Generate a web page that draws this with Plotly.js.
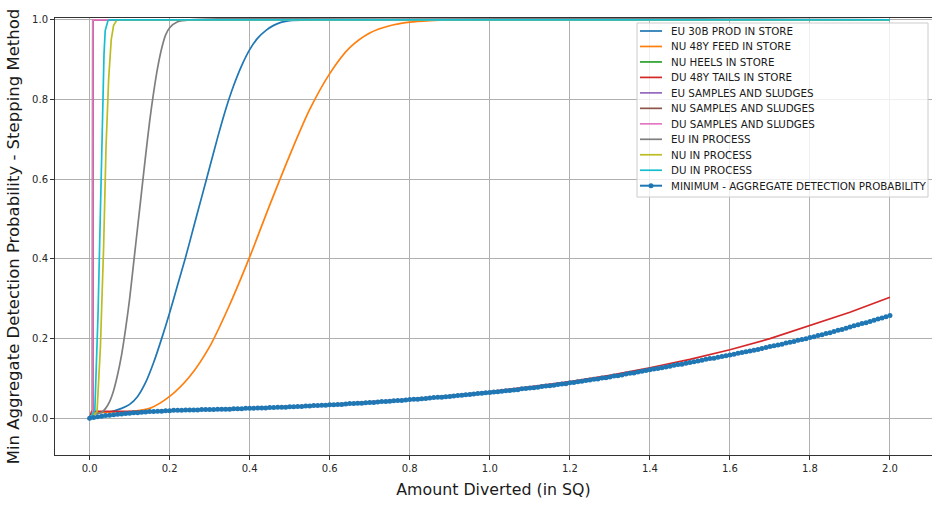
<!DOCTYPE html>
<html>
<head>
<meta charset="utf-8">
<script src="https://cdn.plot.ly/plotly-3.0.1.min.js"></script>
<style>html,body{margin:0;padding:0;background:#fff;}#chart{width:932px;height:508px;}</style>
</head>
<body>
<div id="chart"></div>
<script>
// ---- Data ----
const seriesNames = [
  "EU 30B PROD IN STORE",
  "NU 48Y FEED IN STORE",
  "NU HEELS IN STORE",
  "DU 48Y TAILS IN STORE",
  "EU SAMPLES AND SLUDGES",
  "NU SAMPLES AND SLUDGES",
  "DU SAMPLES AND SLUDGES",
  "EU IN PROCESS",
  "NU IN PROCESS",
  "DU IN PROCESS",
  "MINIMUM - AGGREGATE DETECTION PROBABILITY"
];
const seriesColors = ["#1f77b4","#ff7f0e","#2ca02c","#d62728","#9467bd","#8c564b","#e377c2","#7f7f7f","#bcbd22","#17becf","#1f77b4"];

const euProdX = [0,0.01,0.05,0.08,0.10,0.12,0.14,0.16,0.18,0.20,0.22,0.24,0.26,0.28,0.30,0.32,0.34,0.36,0.38,0.40,0.42,0.44,0.46,0.48,0.50,0.55,2.0];
const euProdY = [0,0.012,0.016,0.025,0.035,0.055,0.09,0.14,0.20,0.265,0.335,0.405,0.48,0.555,0.63,0.705,0.775,0.835,0.885,0.925,0.954,0.973,0.986,0.994,0.998,1.0,1.0];

const nuFeedX = [0,0.01,0.10,0.15,0.20,0.25,0.30,0.35,0.40,0.45,0.50,0.55,0.60,0.65,0.70,0.75,0.80,0.85,0.90,2.0];
const nuFeedY = [0,0.012,0.017,0.025,0.055,0.105,0.18,0.285,0.405,0.535,0.66,0.775,0.865,0.93,0.967,0.985,0.994,0.998,1.0,1.0];

const nuHeelsX = [0,0.0075,0.008,2.0];
const nuHeelsY = [0,0.01,1.0,1.0];

const duTailsX = [0,0.005,0.05,0.10,0.15,0.20,0.30,0.40,0.50,0.60,0.70,0.80,0.90,1.00,1.10,1.20,1.30,1.40,1.50,1.60,1.70,1.80,1.90,2.00];
const duTailsY = [0,0.0176,0.0176,0.0176,0.018,0.020,0.023,0.026,0.030,0.035,0.041,0.048,0.057,0.067,0.079,0.092,0.108,0.127,0.148,0.172,0.200,0.232,0.266,0.304];

const euSamplesX = [0,0.0075,0.008,2.0];
const euSamplesY = [0,0.01,1.0,1.0];
const nuSamplesX = [0,0.0075,0.008,2.0];
const nuSamplesY = [0,0.01,1.0,1.0];
const duSamplesX = [0,0.0075,0.008,2.0];
const duSamplesY = [0,0.01,1.0,1.0];

const euProcessX = [0,0.01,0.03,0.04,0.05,0.06,0.07,0.08,0.09,0.10,0.11,0.12,0.13,0.14,0.15,0.16,0.17,0.18,0.19,0.20,0.22,0.25,2.0];
const euProcessY = [0,0.01,0.015,0.025,0.042,0.07,0.11,0.16,0.225,0.30,0.39,0.48,0.57,0.66,0.745,0.818,0.88,0.928,0.962,0.98,0.995,1.0,1.0];

const nuProcessX = [0,0.0185,0.027,0.035,0.041,0.0475,0.054,0.060,0.0685,2.0];
const nuProcessY = [0,0.016,0.18,0.43,0.68,0.85,0.95,0.986,1.0,1.0];

const duProcessX = [0,0.013,0.021,0.0275,0.0325,0.036,0.039,0.046,0.050,2.0];
const duProcessY = [0,0.02,0.26,0.51,0.76,0.914,0.973,0.998,1.0,1.0];

// Minimum aggregate detection probability, sampled every 0.01 from 0 to 2
const minStart = 0;
const minStep = 0.01;
const minY = [
 0.000,
 0.002,0.004,0.005,0.007,0.008,0.009,0.010,0.011,0.012,0.013,
 0.014,0.014,0.015,0.016,0.017,0.017,0.018,0.018,0.019,0.019,
 0.020,0.020,0.020,0.021,0.021,0.021,0.021,0.022,0.022,0.022,
 0.022,0.023,0.023,0.023,0.023,0.024,0.024,0.024,0.025,0.025,
 0.025,0.026,0.026,0.026,0.027,0.027,0.028,0.028,0.028,0.029,
 0.029,0.030,0.030,0.031,0.031,0.032,0.032,0.033,0.033,0.034,
 0.034,0.035,0.035,0.036,0.037,0.037,0.038,0.038,0.039,0.040,
 0.040,0.041,0.042,0.042,0.043,0.044,0.045,0.045,0.046,0.047,
 0.048,0.048,0.049,0.050,0.051,0.052,0.053,0.053,0.054,0.055,
 0.056,0.057,0.058,0.059,0.060,0.061,0.062,0.063,0.064,0.065,
 0.066,0.067,0.068,0.069,0.070,0.071,0.072,0.074,0.075,0.076,
 0.077,0.078,0.080,0.081,0.082,0.083,0.085,0.086,0.087,0.089,
 0.090,0.092,0.093,0.095,0.096,0.098,0.099,0.101,0.102,0.104,
 0.106,0.107,0.109,0.111,0.113,0.114,0.116,0.118,0.120,0.122,
 0.124,0.125,0.127,0.129,0.131,0.133,0.135,0.136,0.138,0.140,
 0.142,0.144,0.146,0.148,0.150,0.151,0.153,0.155,0.157,0.159,
 0.161,0.163,0.165,0.167,0.169,0.171,0.173,0.175,0.178,0.180,
 0.182,0.184,0.186,0.189,0.191,0.193,0.196,0.198,0.200,0.203,
 0.205,0.208,0.210,0.213,0.215,0.218,0.221,0.223,0.226,0.229,
 0.232,0.235,0.238,0.240,0.243,0.246,0.249,0.252,0.255,0.258
];

const xTickVals = [0,0.2,0.4,0.6,0.8,1.0,1.2,1.4,1.6,1.8,2.0];
const yTickVals = [0,0.2,0.4,0.6,0.8,1.0];

// ---- Build traces ----
const lineX = [euProdX,nuFeedX,nuHeelsX,duTailsX,euSamplesX,nuSamplesX,duSamplesX,euProcessX,nuProcessX,duProcessX];
const lineY = [euProdY,nuFeedY,nuHeelsY,duTailsY,euSamplesY,nuSamplesY,duSamplesY,euProcessY,nuProcessY,duProcessY];
const smoothSeries = [true,true,false,false,false,false,false,true,false,false];

const traces = lineX.map((xs,i) => ({
  type: "scatter", mode: "lines", x: xs, y: lineY[i],
  name: seriesNames[i], showlegend: false,
  line: {color: seriesColors[i], width: 1.7,
         shape: smoothSeries[i] ? "spline" : "linear", smoothing: 0.8}
}));
traces.push({
  type: "scatter", mode: "lines+markers", x0: minStart, dx: minStep, y: minY,
  name: seriesNames[10], showlegend: false,
  line: {color: seriesColors[10], width: 2},
  marker: {color: seriesColors[10], size: 5}
});

// ---- Layout geometry ----
const W = 932, H = 508;
const mL = 55, mR = 0, mT = 18, mB = 53;
const pw = W - mL - mR, ph = H - mT - mB;
const px2x = p => (p - mL) / pw;
const py2y = p => (H - mB - p) / ph;

// Custom legend (matplotlib-like spacing)
const shapes = [];
const annotations = [];
const legL = 637, legR = 928, legT = 23, legB = 197;
shapes.push({type:"rect", xref:"paper", yref:"paper", layer:"above",
  x0: px2x(legL), x1: px2x(legR), y0: py2y(legB), y1: py2y(legT),
  fillcolor:"rgba(255,255,255,0.8)", line:{color:"#cccccc", width:1}});
seriesNames.forEach((nm,i) => {
  const cy = 31 + i*15.47;
  shapes.push({type:"line", xref:"paper", yref:"paper", layer:"above",
    x0: px2x(640), x1: px2x(662), y0: py2y(cy), y1: py2y(cy),
    line:{color: seriesColors[i], width: i===10 ? 2 : 1.7}});
  if (i === 10) {
    shapes.push({type:"circle", xref:"paper", yref:"paper", layer:"above",
      x0: px2x(648.5), x1: px2x(653.5), y0: py2y(cy+2.5), y1: py2y(cy-2.5),
      fillcolor: seriesColors[i], line:{color: seriesColors[i], width:0}});
  }
  annotations.push({xref:"paper", yref:"paper", x: px2x(669), y: py2y(cy),
    xanchor:"left", yanchor:"middle", showarrow:false, text: nm,
    font:{family:"DejaVu Sans", size:10.3, color:"#1a1a1a"}});
});

const axisCommon = {
  showgrid: true, gridcolor: "#b0b0b0", gridwidth: 1,
  zeroline: false, showline: true, linecolor: "#333333", linewidth: 1,
  ticks: "outside", ticklen: 4, tickcolor: "#333333", tickwidth: 1,
  tickfont: {family: "DejaVu Sans", size: 10, color: "#262626"},
  tickformat: ".1f", automargin: false
};

const layout = {
  width: W, height: H,
  margin: {l: mL, r: mR, t: mT, b: mB, pad: 0},
  paper_bgcolor: "#ffffff", plot_bgcolor: "#ffffff",
  showlegend: false,
  xaxis: Object.assign({}, axisCommon, {
    range: [-0.0865, 2.105], tickmode: "array", tickvals: xTickVals, mirror: true,
    title: {text: "Amount Diverted (in SQ)", font: {family: "DejaVu Sans", size: 15.8, color: "#1a1a1a"}, standoff: 10}
  }),
  yaxis: Object.assign({}, axisCommon, {
    range: [-0.092, 1.0045], tickmode: "array", tickvals: yTickVals,
    title: {text: "Min Aggregate Detection Probability - Stepping Method", font: {family: "DejaVu Sans", size: 16.5, color: "#1a1a1a"}, standoff: 8}
  }),
  shapes: shapes,
  annotations: annotations
};

Plotly.newPlot("chart", traces, layout, {displayModeBar: false, staticPlot: true});
</script>
</body>
</html>
